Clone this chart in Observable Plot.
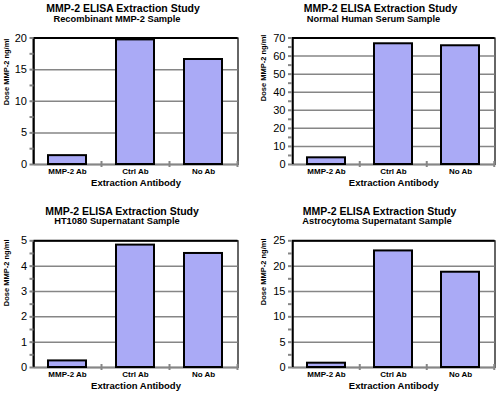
<!DOCTYPE html>
<html>
<head>
<meta charset="utf-8">
<script src="https://cdn.jsdelivr.net/npm/d3@7"></script>
<script src="https://cdn.jsdelivr.net/npm/@observablehq/plot@0.6"></script>
<style>
  html, body { margin: 0; padding: 0; background: #fff; }
  #wrap { position: relative; width: 498px; height: 394px; overflow: hidden; font-family: "Liberation Sans", Arial, sans-serif; }
  .ttl { position: absolute; width: 240px; text-align: center; font-weight: bold; white-space: nowrap; color: #000; }
  .panel { position: absolute; }
</style>
</head>
<body>
<div id="wrap"></div>
<script>
// ---- data ----
const categories = ["MMP-2 Ab", "Ctrl Ab", "No Ab"];
const mainTitle = "MMP-2 ELISA Extraction Study";
const subtitles = ["Recombinant MMP-2 Sample", "Normal Human Serum Sample", "HT1080 Supernatant Sample", "Astrocytoma Supernatant Sample"];
const xLabel = "Extraction Antibody";
const yLabel = "Dose MMP-2 ng/ml";

const recombinant = [1.4, 19.7, 16.6];
const serum = [3.7, 66.8, 65.7];
const ht1080 = [0.26, 4.83, 4.5];
const astrocytoma = [0.85, 23.0, 18.8];

const ticksRecombinant = [0, 5, 10, 15, 20];
const ticksSerum = [0, 10, 20, 30, 40, 50, 60, 70];
const ticksHt1080 = [0, 1, 2, 3, 4, 5];
const ticksAstrocytoma = [0, 5, 10, 15, 20, 25];

const minorRecombinant = [2.5, 7.5, 12.5, 17.5];
const minorSerum = [5, 15, 25, 35, 45, 55, 65];
const minorHt1080 = [0.5, 1.5, 2.5, 3.5, 4.5];
const minorAstrocytoma = [2.5, 7.5, 12.5, 17.5, 22.5];

// ---- layout ----
const panels = [
  {values: recombinant, ticks: ticksRecombinant, minor: minorRecombinant, sub: subtitles[0],
   left: 0, top: 0, width: 248, height: 197, ml: 33.5, mr: 10.5, mt: 37.5, mb: 33, ylx: -27.5, yly: 4,
   t1: [123, 8], t2: [117, 20]},
  {values: serum, ticks: ticksSerum, minor: minorSerum, sub: subtitles[1],
   left: 248, top: 0, width: 250, height: 197, ml: 44, mr: 3.5, mt: 37.5, mb: 33, ylx: -29, yly: 0,
   t1: [380.5, 8], t2: [373.5, 20]},
  {values: ht1080, ticks: ticksHt1080, minor: minorHt1080, sub: subtitles[2],
   left: 0, top: 197, width: 248, height: 197, ml: 33.5, mr: 10.5, mt: 43.3, mb: 27, ylx: -27.5, yly: 2,
   t1: [122, 211], t2: [117, 222]},
  {values: astrocytoma, ticks: ticksAstrocytoma, minor: minorAstrocytoma, sub: subtitles[3],
   left: 248, top: 197, width: 250, height: 197, ml: 44, mr: 3.5, mt: 43.3, mb: 27, ylx: -29, yly: 1,
   t1: [379.5, 211], t2: [377, 222]}
];

const wrap = document.getElementById("wrap");
const barFill = "#aaaaf6";
const gridColor = "#868686";

function addTitle(text, cx, cy, fs) {
  const d = document.createElement("div");
  d.className = "ttl";
  d.textContent = text;
  d.style.fontSize = fs + "px";
  d.style.lineHeight = fs + "px";
  d.style.left = (cx - 120) + "px";
  d.style.top = (cy - fs / 2) + "px";
  wrap.appendChild(d);
}

for (const p of panels) {
  const data = categories.map((c, i) => ({cat: c, value: p.values[i]}));
  const max = p.ticks[p.ticks.length - 1];
  const grid = p.ticks.filter(t => t !== 0 && t !== max);
  const step = (p.width - p.ml - p.mr) / categories.length;

  const chart = Plot.plot({
    width: p.width,
    height: p.height,
    marginLeft: p.ml,
    marginRight: p.mr,
    marginTop: p.mt,
    marginBottom: p.mb,
    style: {fontFamily: "'Liberation Sans', Arial, sans-serif", background: "white", overflow: "visible", color: "black"},
    x: {domain: categories, paddingInner: 0.44, paddingOuter: 0.22},
    y: {domain: [0, max]},
    marks: [
      Plot.frame({stroke: "black", strokeWidth: 1.2}),
      Plot.ruleY(grid, {stroke: gridColor, strokeWidth: 1.5}),
      Plot.ruleY([0], {stroke: gridColor, strokeWidth: 2}),
      Plot.barY(data, {x: "cat", y: "value", fill: barFill, stroke: "black", strokeWidth: 2}),
      Plot.ruleY([max], {stroke: "black", strokeWidth: 2}),
      Plot.ruleX([categories[0]], {dx: -step / 2, stroke: "black", strokeWidth: 2}),
      Plot.ruleX(categories.slice(1), {y1: 0, y2: 0, insetTop: -3, insetBottom: -3, dx: -step / 2, stroke: gridColor, strokeWidth: 2}),
      Plot.ruleX([categories[categories.length - 1]], {y1: 0, y2: 0, insetTop: -3, insetBottom: -3, dx: step / 2, stroke: gridColor, strokeWidth: 2}),
      Plot.axisY({ticks: p.minor, tickSize: 4, tickFormat: () => "", stroke: gridColor, strokeWidth: 2, label: null}),
      Plot.axisY({ticks: p.ticks, tickSize: 4, tickPadding: 3, tickFormat: d => String(d), stroke: gridColor, strokeWidth: 2, fontSize: 11, fill: "black", label: null}),
      Plot.axisX({tickSize: 0, tickPadding: 4, fontSize: 8, fontWeight: "bold", fill: "black", label: null}),
      Plot.text([xLabel], {frameAnchor: "bottom", dy: 18, fontSize: 9.5, fontWeight: "bold", lineAnchor: "middle", fill: "black"}),
      Plot.text([yLabel], {frameAnchor: "left", rotate: -90, dx: p.ylx, dy: p.yly, fontSize: 7.5, fontWeight: "bold", lineAnchor: "middle", fill: "black"})
    ]
  });
  chart.classList.add("panel");
  chart.style.left = p.left + "px";
  chart.style.top = p.top + "px";
  wrap.appendChild(chart);

  addTitle(mainTitle, p.t1[0], p.t1[1], 10.5);
  addTitle(p.sub, p.t2[0], p.t2[1], 9.3);
}
</script>
</body>
</html>
